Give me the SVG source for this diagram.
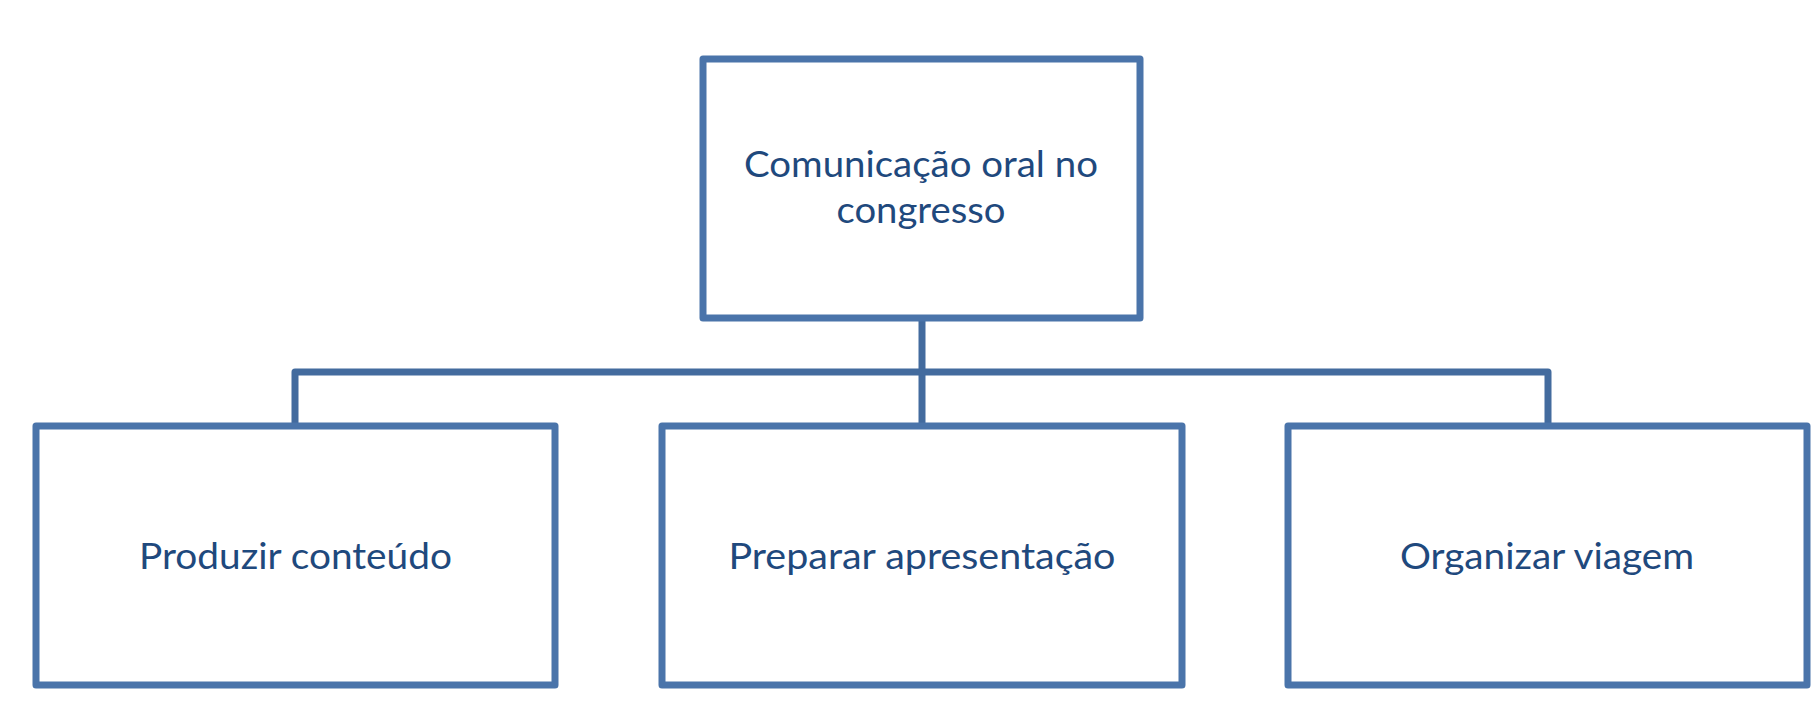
<svg xmlns="http://www.w3.org/2000/svg" width="1816" height="707" viewBox="0 0 1816 707">
<style>
.box{fill:#ffffff;stroke:#4A74AA;stroke-width:7;stroke-linejoin:round}
.conn{fill:none;stroke:#436B9E;stroke-width:7;stroke-linejoin:round}
.lbl{font-family:Lato,"Open Sans","Liberation Sans",sans-serif;font-size:37px;fill:#1F497D;text-anchor:middle}
</style>
<rect width="1816" height="707" fill="#ffffff"/>
<g id="connectors">
<path class="conn" d="M922 318 V426"/>
<path class="conn" d="M295 426 V372 H1548 V426"/>
</g>
<g id="node-root">
<rect class="box" x="703" y="59" width="437" height="259"/>
<text class="lbl" x="921" y="177" textLength="354" lengthAdjust="spacingAndGlyphs">Comunicação oral no</text>
<text class="lbl" x="921" y="223" textLength="169" lengthAdjust="spacingAndGlyphs">congresso</text>
</g>
<g id="node-produzir">
<rect class="box" x="36" y="426" width="519" height="259"/>
<text class="lbl" x="295.5" y="569" textLength="313" lengthAdjust="spacingAndGlyphs">Produzir conteúdo</text>
</g>
<g id="node-preparar">
<rect class="box" x="662" y="426" width="520" height="259"/>
<text class="lbl" x="922" y="569" textLength="387" lengthAdjust="spacingAndGlyphs">Preparar apresentação</text>
</g>
<g id="node-organizar">
<rect class="box" x="1288" y="426" width="519" height="259"/>
<text class="lbl" x="1547" y="569" textLength="294" lengthAdjust="spacingAndGlyphs">Organizar viagem</text>
</g>
</svg>
